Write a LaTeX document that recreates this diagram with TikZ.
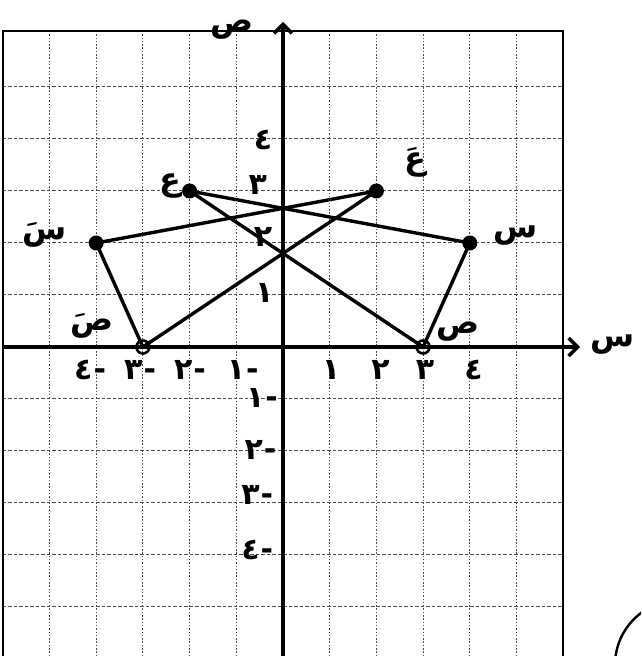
\documentclass[tikz,border=0pt]{standalone}
\usepackage{fontspec}
\newfontfamily\af[Script=Arabic]{DejaVu Sans}
\TeXXeTstate=1
\usetikzlibrary{arrows.meta}
\begin{document}
\begin{tikzpicture}[
  gridv/.style={draw=black!70, line width=1pt, dash pattern=on 1.5pt off 1.8pt},
  gridh/.style={draw=black!70, line width=1pt, dash pattern=on 3.5pt off 2pt},
  framel/.style={line width=2pt},
  axisl/.style={line width=3.4pt, -{Straight Barb[length=9pt,width=18pt]}},
  edge/.style={line width=3.4pt},
  fulldot/.style={circle, fill=black, inner sep=0pt, minimum size=15pt},
  opendot/.style={circle, draw=black, line width=2.6pt, inner sep=0pt, minimum size=13pt},
  lab/.style={font=\af\bfseries\fontsize{32}{36}\selectfont, inner sep=0pt},
  ticklab/.style={font=\af\bfseries\fontsize{30}{34}\selectfont, inner sep=0pt},
]
\useasboundingbox (0,0) rectangle (641pt,656pt);
\clip (0,0) rectangle (641pt,656pt);
\begin{scope}[shift={(283pt,309pt)}, x=46.7pt, y=52pt]
  % grid
  \foreach \u in {-5,-4,-3,-2,-1,1,2,3,4,5}
    \draw[gridv] (\u,-6.2) -- (\u,6.08);
  \foreach \v in {-5,-4,-3,-2,-1,1,2,3,4,5}
    \draw[gridh] (-6,\v) -- (6,\v);
  % frame
  \draw[framel] (-6,-6.2) -- (-6,6.08) -- (6,6.08) -- (6,-6.2);
  % axes
  \coordinate (xs) at (-6,0);
  \coordinate (xe) at (6.36,0);
  \coordinate (ys) at (0,-6.2);
  \coordinate (ye) at (0,6.25);
  \draw[axisl] (xs) -- (xe);
  \draw[axisl] (ys) -- (ye);
  \node[lab] (xl) at (7.05,0.04) {\beginR س\endR};
  \node[lab] (yl) at (-1.09,6.1) {\beginR ص\endR};
  % points
  \coordinate (E) at (-2,3);
  \coordinate (S) at (4,2);
  \coordinate (P) at (3,0);
  \coordinate (E2) at (2,3);
  \coordinate (S2) at (-4,2);
  \coordinate (P2) at (-3,0);
  \draw[edge] (E) -- (S) -- (P) -- (E);
  \draw[edge] (E2) -- (S2) -- (P2) -- (E2);
  \node[fulldot] (dE) at (E) {};
  \node[fulldot] (dS) at (S) {};
  \node[fulldot] (dE2) at (E2) {};
  \node[fulldot] (dS2) at (S2) {};
  \node[opendot] (dP) at (P) {};
  \node[opendot] (dP2) at (P2) {};
  % point labels
  \node[lab] (lE) at (-2.4,3.1) {\beginR ع\endR};
  \node[lab] (lE2) at (2.83,3.55) {\beginR عَ\endR};
  \node[lab] (lS) at (4.97,2.15) {\beginR س\endR};
  \node[lab] (lS2) at (-5.1,2.15) {\beginR سَ\endR};
  \node[lab] (lP) at (3.75,0.3) {\beginR ص\endR};
  \node[lab] (lP2) at (-4.09,0.4) {\beginR صَ\endR};
  % x ticks
  \node[ticklab] (x1) at (1.03,-0.45) {١};
  \node[ticklab] (x2) at (2.09,-0.45) {٢};
  \node[ticklab] (x3) at (3.04,-0.45) {٣};
  \node[ticklab] (x4) at (4.08,-0.45) {٤};
  \node[ticklab] (xm1) at (-0.86,-0.45) {١\kern1pt-};
  \node[ticklab] (xm2) at (-1.99,-0.45) {٢\kern1pt-};
  \node[ticklab] (xm3) at (-3.06,-0.45) {٣\kern1pt-};
  \node[ticklab] (xm4) at (-4.13,-0.45) {٤\kern1pt-};
  % y ticks
  \node[ticklab] (y1) at (-0.4,1.04) {١};
  \node[ticklab] (y2) at (-0.43,2.12) {٢};
  \node[ticklab] (y3) at (-0.54,3.12) {٣};
  \node[ticklab] (y4) at (-0.43,3.98) {٤};
  \node[ticklab] (ym1) at (-0.45,-0.98) {١\kern1pt-};
  \node[ticklab] (ym2) at (-0.48,-1.98) {٢\kern1pt-};
  \node[ticklab] (ym3) at (-0.55,-2.85) {٣\kern1pt-};
  \node[ticklab] (ym4) at (-0.55,-3.9) {٤\kern1pt-};
\end{scope}
% partial circle at lower right
\draw[line width=2.4pt] (680pt,-9pt) circle (65pt);
\end{tikzpicture}
\end{document}
